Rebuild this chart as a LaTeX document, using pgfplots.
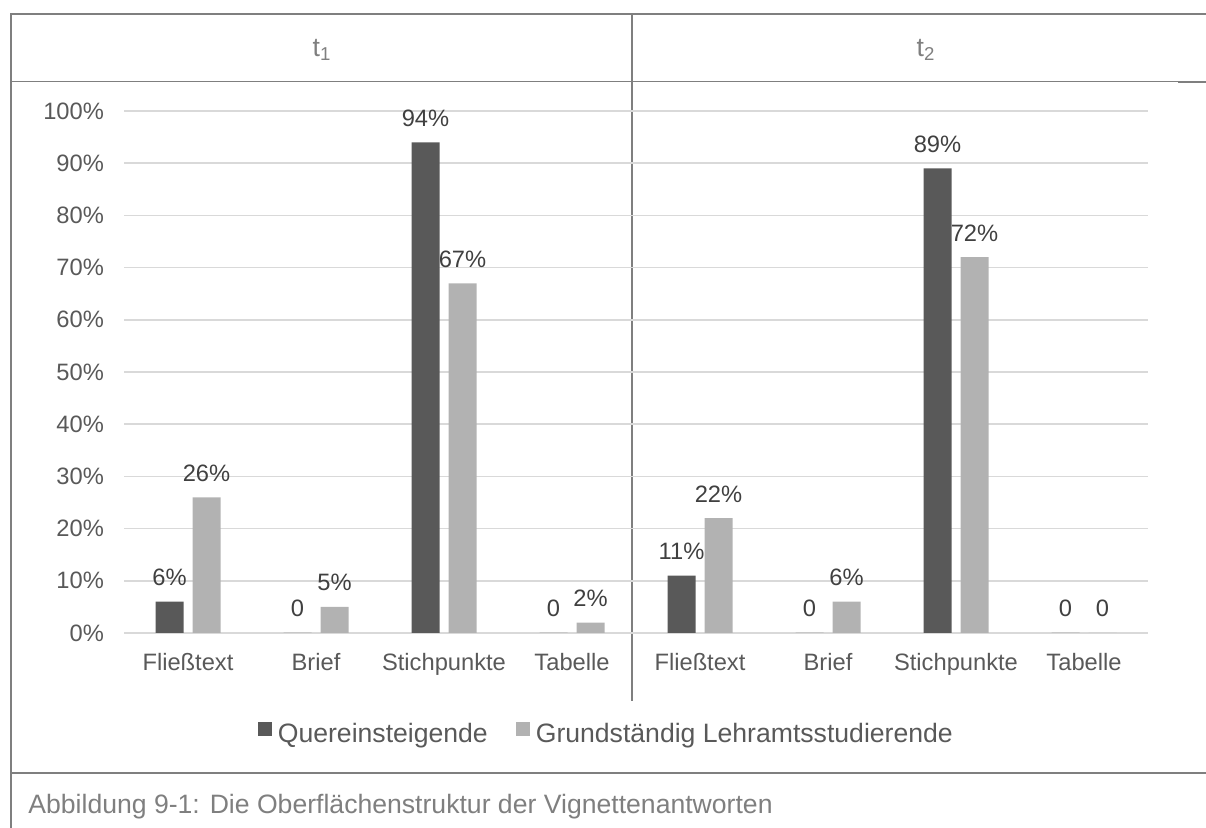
\documentclass[border=0pt]{standalone}
\usepackage{pgfplots}
\pgfplotsset{compat=1.18}
\usepackage{pgfplotstable}
\usepackage{fontspec}
\setmainfont{Liberation Sans}

\definecolor{qdark}{HTML}{595959}
\definecolor{glight}{HTML}{B2B2B2}
\definecolor{gridgray}{HTML}{D9D9D9}
\definecolor{ticktext}{HTML}{595959}
\definecolor{labtext}{HTML}{404040}
\definecolor{framegray}{HTML}{7F7F7F}

% Quereinsteigende (t1: 0-3, t2: 4-7)
\pgfplotstableread{
x y lab
0 6 6\%
1 0 0
2 94 94\%
3 0 0
4 11 11\%
5 0 0
6 89 89\%
7 0 0
}\quer

% Grundständig Lehramtsstudierende
\pgfplotstableread{
x y lab
0 26 26\%
1 5 5\%
2 67 67\%
3 2 2\%
4 22 22\%
5 6 6\%
6 72 72\%
7 0 0
}\grund

\begin{document}
\begin{tikzpicture}
% frame, header and caption rows (coordinates in px, y downwards)
\begin{scope}[x=0.5pt,y=-0.5pt]
  \path[use as bounding box] (0,0) rectangle (1206,828);
  \draw[framegray,line width=1pt] (11,828) -- (11,14) -- (1206,14);
  \draw[framegray,line width=0.8pt] (11,81.5) -- (1206,81.5);
  \draw[framegray,line width=1.2pt] (1178,82) -- (1206,82);
  \draw[framegray,line width=0.7pt] (632,14) -- (632,701);
  \draw[framegray,line width=1pt] (11,773) -- (1206,773);
  \node[text=framegray,font=\fontsize{13.3}{16}\selectfont] at (322,50) {t\textsubscript{1}};
  \node[text=framegray,font=\fontsize{13.3}{16}\selectfont] at (926,50) {t\textsubscript{2}};
  \node[anchor=base west,inner sep=0pt,text=framegray,font=\fontsize{13.3}{16}\selectfont]
    at (28,813) {Abbildung 9-1: Die Oberflächenstruktur der Vignettenantworten};
\end{scope}

\begin{axis}[
  at={(62pt,-316.5pt)}, anchor=south west,
  scale only axis, width=512pt, height=261pt,
  xmin=-0.5, xmax=7.5, ymin=0, ymax=100,
  enlargelimits=false, clip=false,
  ybar=4.5pt, bar width=14pt,
  axis line style={draw=none},
  tick style={draw=none},
  major tick length=0pt,
  ymajorgrids, grid style={gridgray,line width=0.75pt},
  ytick={0,10,...,100},
  yticklabel={\pgfmathprintnumber{\tick}\%},
  xtick={0,...,7},
  xticklabels={Fließtext,Brief,Stichpunkte,Tabelle,Fließtext,Brief,Stichpunkte,Tabelle},
  /pgf/number format/assume math mode=true,
  ticklabel style={text=ticktext,font=\fontsize{11.85}{14}\selectfont},
  yticklabel style={xshift=-6.5pt},
  xticklabel style={yshift=-6.5pt},
  nodes near coords,
  point meta=explicit symbolic,
  every node near coord/.append style={text=labtext,font=\fontsize{11.85}{14}\selectfont,
    anchor=south,inner sep=0pt,yshift=7.8pt},
  legend columns=2,
  legend style={at={(0.472,-0.195)},anchor=center,draw=none,fill=none,
    font=\fontsize{13.3}{16}\selectfont,text=ticktext,
    /tikz/every even column/.append style={column sep=12pt},
    /tikz/every odd column/.append style={column sep=1pt}},
  legend image code/.code={\fill[#1] (0pt,-0.5pt) rectangle (7pt,6.5pt);},
]
\addplot[fill=qdark,draw=none] table[x=x,y=y,meta=lab] {\quer};
\addplot[fill=glight,draw=none] table[x=x,y=y,meta=lab] {\grund};
\legend{Quereinsteigende,Grundständig Lehramtsstudierende}
\end{axis}
\end{tikzpicture}
\end{document}
